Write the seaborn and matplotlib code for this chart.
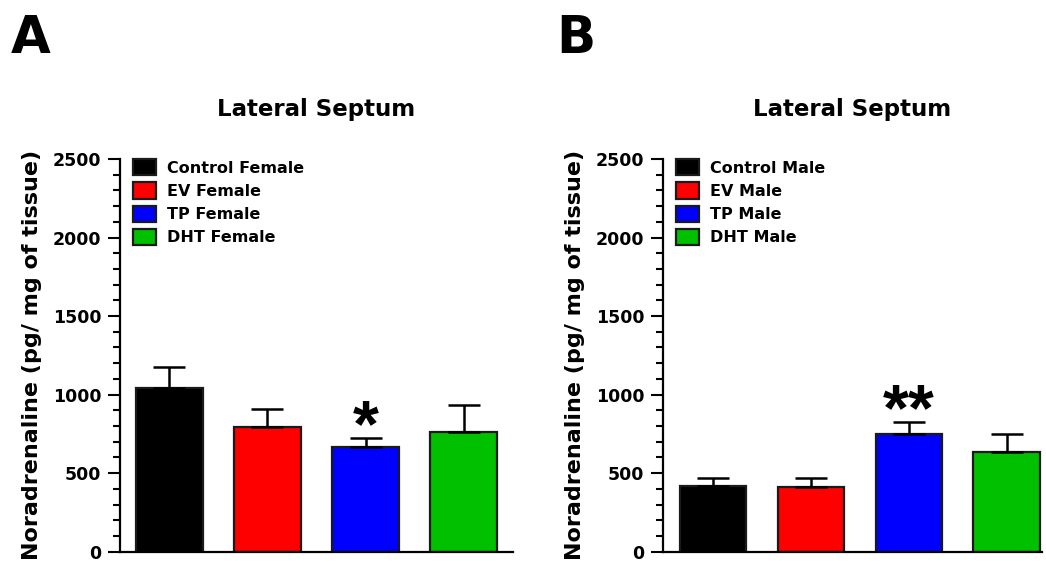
import matplotlib
matplotlib.use("Agg")
import matplotlib.pyplot as plt
import seaborn as sns
import pandas as pd
from matplotlib.patches import Patch
from matplotlib.ticker import MultipleLocator

# ---- data ----
groups_female = ["Control Female", "EV Female", "TP Female", "DHT Female"]
means_female = [1045, 795, 665, 760]
sem_female = [131, 111, 61, 174]

groups_male = ["Control Male", "EV Male", "TP Male", "DHT Male"]
means_male = [418, 410, 750, 637]
sem_male = [53, 57, 78, 110]

stars_female = ["", "", "*", ""]
stars_male = ["", "", "**", ""]

colors = ["#000000", "#FF0000", "#0000FF", "#00C000"]
title = "Lateral Septum"
ylabel = "Noradrenaline (pg/ mg of tissue)"
yticks = [0, 500, 1000, 1500, 2000, 2500]

sns.set_style("ticks")
plt.rcParams["font.family"] = ["DejaVu Sans"]
plt.rcParams["font.weight"] = "bold"
for key in ("text.color", "axes.labelcolor", "xtick.color", "ytick.color",
            "axes.edgecolor"):
    plt.rcParams[key] = "black"

W, H = 1046, 565
fig = plt.figure(figsize=(W / 100, H / 100), dpi=100)
y0 = 1 - 551.7 / H
hgt = 392.7 / H
axA = fig.add_axes([120 / W, y0, 393 / W, hgt])
axB = fig.add_axes([663 / W, y0, 379 / W, hgt])

EDGE = "#1a1a1a"


def draw(ax, groups, means, sems, stars, xlim):
    df = pd.DataFrame({"group": groups, "value": means})
    sns.barplot(data=df, x="group", y="value", hue="group", order=groups,
                hue_order=groups, palette=colors, saturation=1, width=0.68,
                edgecolor=EDGE, linewidth=1.6, errorbar=None, legend=False,
                ax=ax)
    n = len(groups)
    xs = list(range(n))
    ax.errorbar(xs, means, yerr=[[0] * n, sems], fmt="none", ecolor="black",
                elinewidth=1.8, capsize=11.5, capthick=1.8, zorder=3)
    for x, m, s, st in zip(xs, means, sems, stars):
        if st:
            ax.text(x, m + s - 52, st, ha="center", va="baseline",
                    fontsize=48, fontweight="bold", color="black",
                    family=["Liberation Sans", "DejaVu Sans"])
    ax.set_xlim(*xlim)
    ax.set_ylim(0, 2500)
    ax.set_yticks(yticks)
    ax.yaxis.set_minor_locator(MultipleLocator(100))
    ax.tick_params(axis="y", which="major", length=8.5, width=1.5,
                   labelsize=12.5, pad=5, color="black", labelcolor="black")
    ax.tick_params(axis="y", which="minor", length=5, width=1.5, color="black")
    for lab in ax.get_yticklabels():
        lab.set_fontweight("bold")
    ax.tick_params(axis="x", length=0, labelbottom=False)
    ax.set_xlabel("")
    ax.set_ylabel(ylabel, fontsize=16, fontweight="bold", labelpad=8,
                  color="black")
    ax.set_title(title, fontsize=16.5, fontweight="bold", pad=31,
                 color="black")
    sns.despine(ax=ax)
    for sp in ("left", "bottom"):
        ax.spines[sp].set_linewidth(1.6)
        ax.spines[sp].set_color("black")
    handles = [Patch(facecolor=c, edgecolor=EDGE, linewidth=1.6) for c in colors]
    ax.legend(handles, groups, loc="upper left", bbox_to_anchor=(13 / 393, 1.0),
              frameon=False, prop={"weight": "bold", "size": 11.5},
              labelcolor="black",
              handlelength=1.45, handleheight=1.2, labelspacing=0.42,
              handletextpad=0.7, borderpad=0, borderaxespad=0)


draw(axA, groups_female, means_female, sem_female, stars_female, (-0.5, 3.5))
draw(axB, groups_male, means_male, sem_male, stars_male, (-0.51, 3.36))

fig.text(11 / W, 1 - 53 / H, "A", fontsize=37, fontweight="bold",
         ha="left", va="baseline", color="black")
fig.text(556 / W, 1 - 53 / H, "B", fontsize=37, fontweight="bold",
         ha="left", va="baseline", color="black")

fig.savefig("out.png", dpi=100)
